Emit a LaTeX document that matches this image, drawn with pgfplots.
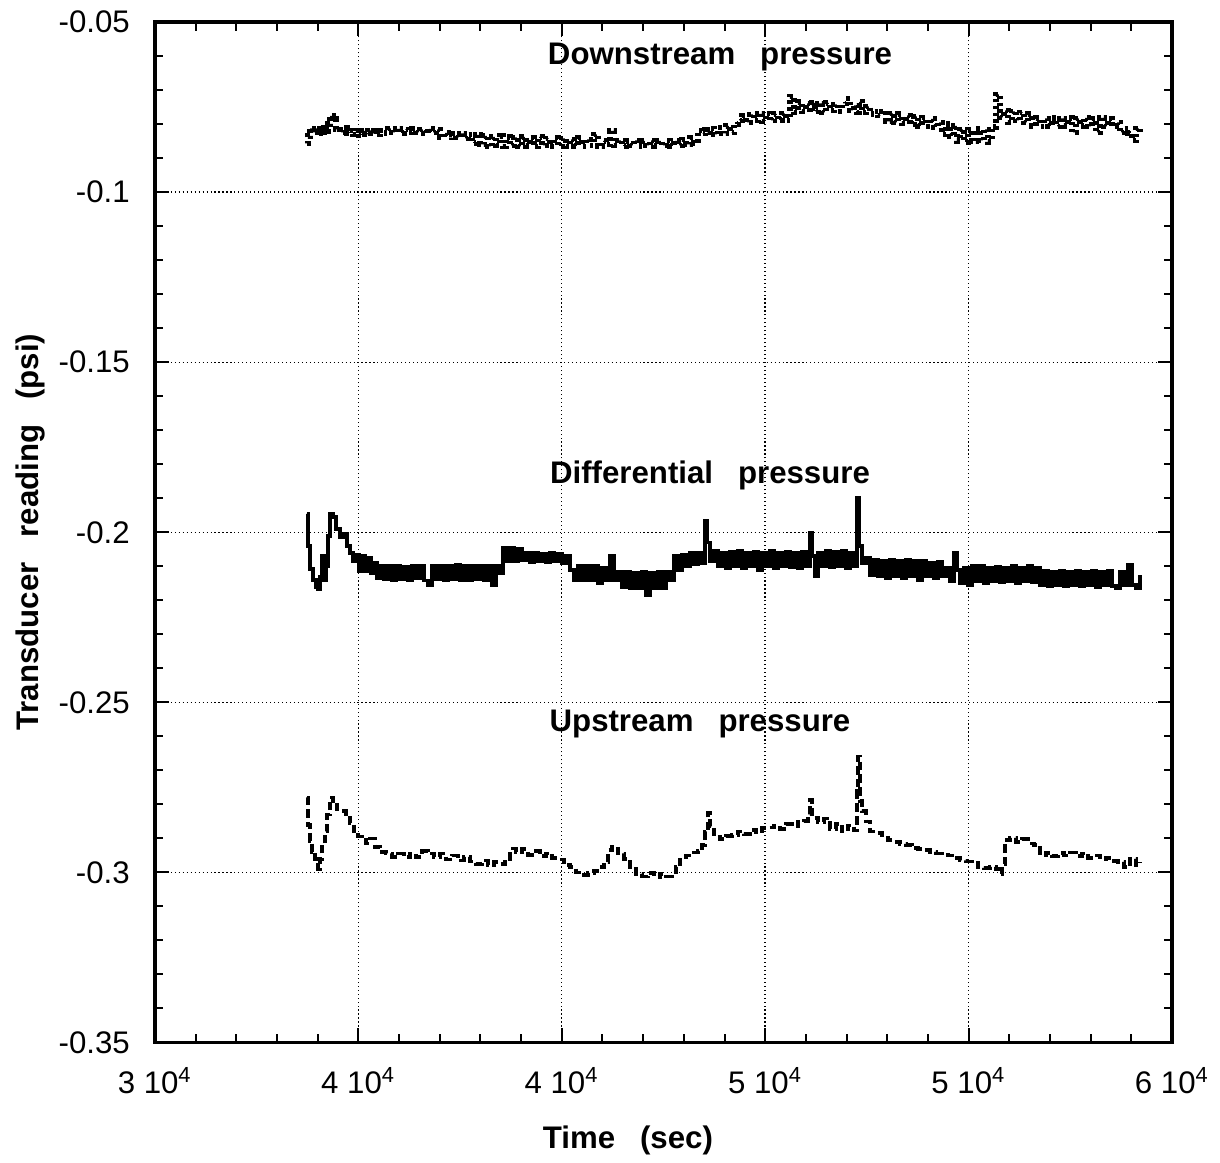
\documentclass[border=0pt]{standalone}
\usepackage{fontspec}
\setmainfont{Liberation Sans}
\usepackage{pgfplots}
\pgfplotsset{compat=1.18}
\newcommand{\gap}{\hspace{0.8em}}
\begin{document}
\fontsize{11}{13}\selectfont
\begin{tikzpicture}
\begin{axis}[
  at={(0,0)}, anchor=south west,
  scale only axis,
  width=358.5pt, height=359.6pt,
  xmin=30000, xmax=60000,
  ymin=-0.35, ymax=-0.05,
  scaled x ticks=false, scaled y ticks=false,
  xtick={30000,36000,42000,48000,54000,60000},
  xticklabels={3 10\textsuperscript{4},4 10\textsuperscript{4},4 10\textsuperscript{4},5 10\textsuperscript{4},5 10\textsuperscript{4},6 10\textsuperscript{4}},
  ytick={-0.35,-0.3,-0.25,-0.2,-0.15,-0.1,-0.05},
  yticklabels={-0.35,-0.3,-0.25,-0.2,-0.15,-0.1,-0.05},
  minor x tick num=4, minor y tick num=4,
  tick align=inside,
  major tick length=5pt, minor tick length=3pt,
  every tick/.style={black, line width=0.7pt},
  axis line style={line width=1.2pt},
  grid=major,
  major grid style={black, densely dotted, line width=0.5pt},
  /pgf/number format/assume math mode=true,
  tick label style={font=\fontsize{11}{13}\selectfont},
  yticklabel style={xshift=-5pt},
  xticklabel style={yshift=-5pt},
  xlabel={\bfseries Time\gap(sec)},
  ylabel={\bfseries Transducer\gap reading\gap(psi)},
  xlabel style={at={(axis description cs:0.465,0)}, anchor=center, yshift=-34.5pt},
  ylabel style={at={(axis description cs:0,0.5)}, anchor=center, yshift=44pt},
  clip=true,
]
% Downstream pressure
\addplot[const plot, black, line width=1.9pt, dash pattern=on 1.2pt off 1.2pt] table {
34484 -0.0856
34514 -0.0835
34573 -0.0812
34661 -0.0825
34750 -0.0812
34809 -0.0826
34868 -0.0810
34927 -0.0824
34986 -0.0810
35045 -0.0822
35104 -0.0800
35163 -0.0776
35251 -0.0785
35340 -0.0815
35458 -0.0825
35576 -0.0810
35664 -0.0826
35753 -0.0818
35841 -0.0830
35930 -0.0818
36018 -0.0832
36107 -0.0820
36195 -0.0830
36284 -0.0818
36372 -0.0828
36461 -0.0820
36549 -0.0830
36638 -0.0818
36756 -0.0826
36874 -0.0813
36992 -0.0824
37110 -0.0814
37228 -0.0826
37346 -0.0815
37464 -0.0825
37582 -0.0813
37700 -0.0824
37818 -0.0815
37936 -0.0826
38054 -0.0814
38172 -0.0825
38290 -0.0816
38408 -0.0838
38526 -0.0826
38644 -0.0840
38762 -0.0828
38880 -0.0840
38998 -0.0828
39116 -0.0842
39234 -0.0830
39352 -0.0855
39470 -0.0832
39588 -0.0860
39706 -0.0835
39824 -0.0865
39942 -0.0838
40060 -0.0862
40178 -0.0835
40266 -0.0866
40355 -0.0838
40473 -0.0862
40591 -0.0840
40709 -0.0866
40827 -0.0838
40945 -0.0864
41063 -0.0840
41181 -0.0866
41299 -0.0838
41417 -0.0862
41535 -0.0842
41653 -0.0866
41771 -0.0840
41889 -0.0864
42007 -0.0842
42125 -0.0866
42243 -0.0845
42361 -0.0864
42479 -0.0840
42597 -0.0866
42715 -0.0845
42833 -0.0862
42951 -0.0830
43069 -0.0864
43187 -0.0850
43305 -0.0860
43423 -0.0820
43541 -0.0862
43659 -0.0848
43777 -0.0864
43895 -0.0850
44013 -0.0862
44131 -0.0848
44249 -0.0864
44367 -0.0850
44485 -0.0862
44603 -0.0848
44721 -0.0864
44839 -0.0850
44957 -0.0862
45075 -0.0848
45193 -0.0864
45311 -0.0850
45429 -0.0862
45547 -0.0845
45665 -0.0860
45783 -0.0840
45901 -0.0855
46019 -0.0818
46137 -0.0828
46226 -0.0815
46285 -0.0825
46373 -0.0812
46491 -0.0830
46609 -0.0810
46727 -0.0828
46845 -0.0805
46963 -0.0825
47081 -0.0800
47199 -0.0790
47317 -0.0775
47435 -0.0795
47553 -0.0772
47671 -0.0790
47789 -0.0770
47907 -0.0792
48025 -0.0768
48143 -0.0790
48261 -0.0770
48379 -0.0788
48497 -0.0768
48615 -0.0790
48733 -0.0718
48851 -0.0765
48969 -0.0735
49087 -0.0762
49205 -0.0740
49323 -0.0765
49382 -0.0738
49470 -0.0762
49559 -0.0740
49677 -0.0765
49795 -0.0738
49913 -0.0760
50031 -0.0742
50149 -0.0762
50267 -0.0740
50385 -0.0725
50503 -0.0760
50621 -0.0745
50710 -0.0765
50769 -0.0735
50857 -0.0765
50975 -0.0748
51093 -0.0770
51211 -0.0762
51329 -0.0775
51447 -0.0762
51565 -0.0792
51683 -0.0768
51801 -0.0795
51919 -0.0770
52037 -0.0798
52155 -0.0775
52273 -0.0800
52391 -0.0778
52509 -0.0805
52627 -0.0780
52745 -0.0806
52863 -0.0785
52981 -0.0808
53099 -0.0795
53217 -0.0830
53335 -0.0800
53453 -0.0835
53571 -0.0805
53660 -0.0850
53748 -0.0815
53866 -0.0852
53984 -0.0815
54102 -0.0850
54220 -0.0812
54338 -0.0848
54456 -0.0815
54574 -0.0852
54692 -0.0808
54810 -0.0712
54928 -0.0780
55046 -0.0760
55164 -0.0795
55282 -0.0762
55400 -0.0790
55518 -0.0765
55636 -0.0795
55754 -0.0770
55872 -0.0805
55990 -0.0782
56108 -0.0806
56226 -0.0784
56344 -0.0805
56462 -0.0782
56580 -0.0806
56698 -0.0784
56816 -0.0805
56934 -0.0782
57052 -0.0825
57170 -0.0784
57288 -0.0805
57406 -0.0782
57524 -0.0806
57642 -0.0784
57760 -0.0825
57878 -0.0782
57996 -0.0806
58114 -0.0784
58232 -0.0805
58350 -0.0795
58468 -0.0825
58586 -0.0812
58704 -0.0826
58822 -0.0848
58940 -0.0812
59058 -0.0826
};
% Differential pressure
\addplot[const plot, black, line width=1.3pt] table {
34484 -0.1946
34514 -0.2040
34573 -0.2108
34661 -0.2140
34750 -0.2160
34809 -0.2167
34868 -0.2130
34927 -0.2069
34986 -0.2140
35045 -0.2100
35104 -0.2010
35163 -0.1946
35251 -0.1955
35340 -0.1990
35458 -0.2015
35576 -0.2005
35664 -0.2040
35753 -0.2060
35841 -0.2085
35930 -0.2065
36018 -0.2115
36107 -0.2070
36195 -0.2115
36284 -0.2075
36372 -0.2120
36461 -0.2090
36549 -0.2135
36638 -0.2100
36756 -0.2138
36874 -0.2098
36992 -0.2140
37110 -0.2100
37228 -0.2138
37346 -0.2102
37464 -0.2140
37582 -0.2098
37700 -0.2135
37818 -0.2100
37936 -0.2142
38054 -0.2155
38172 -0.2100
38290 -0.2138
38408 -0.2098
38526 -0.2140
38644 -0.2100
38762 -0.2138
38880 -0.2095
38998 -0.2140
39116 -0.2100
39234 -0.2142
39352 -0.2098
39470 -0.2138
39588 -0.2100
39706 -0.2140
39824 -0.2098
39942 -0.2155
40060 -0.2100
40178 -0.2120
40266 -0.2045
40355 -0.2085
40473 -0.2045
40591 -0.2085
40709 -0.2050
40827 -0.2082
40945 -0.2060
41063 -0.2088
41181 -0.2060
41299 -0.2085
41417 -0.2062
41535 -0.2088
41653 -0.2060
41771 -0.2085
41889 -0.2062
42007 -0.2090
42125 -0.2070
42243 -0.2110
42361 -0.2140
42479 -0.2100
42597 -0.2142
42715 -0.2100
42833 -0.2140
42951 -0.2098
43069 -0.2150
43187 -0.2105
43305 -0.2140
43423 -0.2070
43541 -0.2140
43659 -0.2115
43777 -0.2160
43895 -0.2115
44013 -0.2165
44131 -0.2118
44249 -0.2165
44367 -0.2115
44485 -0.2185
44603 -0.2120
44721 -0.2165
44839 -0.2115
44957 -0.2165
45075 -0.2115
45193 -0.2140
45311 -0.2070
45429 -0.2110
45547 -0.2065
45665 -0.2100
45783 -0.2060
45901 -0.2095
46019 -0.2060
46137 -0.2090
46226 -0.1966
46285 -0.2030
46373 -0.2085
46491 -0.2055
46609 -0.2100
46727 -0.2060
46845 -0.2105
46963 -0.2058
47081 -0.2100
47199 -0.2055
47317 -0.2105
47435 -0.2060
47553 -0.2100
47671 -0.2058
47789 -0.2110
47907 -0.2060
48025 -0.2100
48143 -0.2055
48261 -0.2105
48379 -0.2060
48497 -0.2100
48615 -0.2058
48733 -0.2102
48851 -0.2060
48969 -0.2105
49087 -0.2058
49205 -0.2100
49323 -0.2002
49382 -0.2070
49470 -0.2130
49559 -0.2060
49677 -0.2100
49795 -0.2055
49913 -0.2102
50031 -0.2058
50149 -0.2100
50267 -0.2055
50385 -0.2105
50503 -0.2060
50621 -0.2100
50710 -0.1900
50769 -0.2040
50857 -0.2090
50975 -0.2075
51093 -0.2125
51211 -0.2080
51329 -0.2130
51447 -0.2085
51565 -0.2135
51683 -0.2082
51801 -0.2130
51919 -0.2085
52037 -0.2135
52155 -0.2082
52273 -0.2130
52391 -0.2085
52509 -0.2140
52627 -0.2085
52745 -0.2130
52863 -0.2090
52981 -0.2135
53099 -0.2088
53217 -0.2130
53335 -0.2105
53453 -0.2145
53571 -0.2060
53660 -0.2110
53748 -0.2150
53866 -0.2105
53984 -0.2155
54102 -0.2100
54220 -0.2145
54338 -0.2100
54456 -0.2150
54574 -0.2105
54692 -0.2145
54810 -0.2102
54928 -0.2148
55046 -0.2105
55164 -0.2145
55282 -0.2100
55400 -0.2150
55518 -0.2105
55636 -0.2145
55754 -0.2100
55872 -0.2148
55990 -0.2105
56108 -0.2155
56226 -0.2112
56344 -0.2158
56462 -0.2115
56580 -0.2156
56698 -0.2112
56816 -0.2158
56934 -0.2115
57052 -0.2156
57170 -0.2112
57288 -0.2158
57406 -0.2115
57524 -0.2156
57642 -0.2112
57760 -0.2160
57878 -0.2115
57996 -0.2156
58114 -0.2112
58232 -0.2158
58350 -0.2165
58468 -0.2115
58586 -0.2156
58704 -0.2095
58822 -0.2156
58940 -0.2165
59058 -0.2125
};
% Upstream pressure
\addplot[const plot, black, line width=1.3pt, dash pattern=on 3pt off 1.5pt] table {
34484 -0.2780
34514 -0.2860
34573 -0.2907
34632 -0.2940
34720 -0.2960
34809 -0.2990
34868 -0.2960
34927 -0.2917
35015 -0.2880
35074 -0.2830
35163 -0.2780
35251 -0.2790
35369 -0.2815
35487 -0.2820
35635 -0.2840
35753 -0.2855
35871 -0.2880
35989 -0.2895
36107 -0.2905
36225 -0.2915
36343 -0.2900
36490 -0.2925
36638 -0.2940
36815 -0.2945
36992 -0.2955
37169 -0.2945
37346 -0.2955
37523 -0.2945
37700 -0.2955
37877 -0.2938
38054 -0.2945
38231 -0.2955
38408 -0.2945
38585 -0.2962
38762 -0.2950
38939 -0.2965
39116 -0.2955
39293 -0.2968
39470 -0.2975
39647 -0.2965
39824 -0.2978
40001 -0.2970
40178 -0.2975
40326 -0.2960
40473 -0.2930
40650 -0.2940
40827 -0.2932
41004 -0.2948
41181 -0.2938
41358 -0.2952
41535 -0.2945
41712 -0.2958
41889 -0.2962
42066 -0.2978
42243 -0.2985
42420 -0.3000
42597 -0.3008
42774 -0.3002
42951 -0.2995
43128 -0.2985
43246 -0.2970
43364 -0.2935
43482 -0.2925
43659 -0.2945
43836 -0.2960
44013 -0.2990
44190 -0.3005
44367 -0.3012
44544 -0.3002
44721 -0.3014
44898 -0.3005
45075 -0.3012
45252 -0.3000
45370 -0.2985
45488 -0.2955
45665 -0.2950
45842 -0.2942
46019 -0.2938
46137 -0.2920
46226 -0.2880
46314 -0.2825
46373 -0.2865
46491 -0.2895
46668 -0.2902
46845 -0.2893
47022 -0.2890
47199 -0.2880
47376 -0.2888
47553 -0.2875
47730 -0.2883
47907 -0.2870
48084 -0.2868
48261 -0.2862
48438 -0.2872
48615 -0.2858
48792 -0.2864
48969 -0.2852
49146 -0.2848
49264 -0.2830
49323 -0.2786
49382 -0.2840
49559 -0.2852
49736 -0.2842
49913 -0.2872
50090 -0.2858
50267 -0.2880
50444 -0.2862
50621 -0.2877
50710 -0.2760
50739 -0.2659
50798 -0.2790
50857 -0.2820
50975 -0.2850
51093 -0.2880
51270 -0.2885
51447 -0.2892
51624 -0.2905
51801 -0.2910
51978 -0.2916
52155 -0.2920
52332 -0.2928
52509 -0.2932
52686 -0.2935
52863 -0.2940
53040 -0.2945
53217 -0.2948
53394 -0.2950
53571 -0.2958
53748 -0.2965
53925 -0.2968
54102 -0.2972
54279 -0.2985
54456 -0.2988
54633 -0.2985
54810 -0.2990
54928 -0.3005
54987 -0.2975
55076 -0.2905
55223 -0.2898
55400 -0.2910
55577 -0.2902
55754 -0.2915
55931 -0.2920
56108 -0.2950
56285 -0.2943
56462 -0.2952
56639 -0.2944
56816 -0.2950
56993 -0.2942
57170 -0.2952
57347 -0.2945
57524 -0.2957
57701 -0.2950
57878 -0.2962
58055 -0.2958
58232 -0.2966
58409 -0.2970
58586 -0.2985
58763 -0.2960
58940 -0.2978
59058 -0.2970
};
\node[font=\bfseries] at (axis cs:46668,-0.0603) {Downstream\gap pressure};
\node[font=\bfseries] at (axis cs:46373,-0.1832) {Differential\gap pressure};
\node[font=\bfseries] at (axis cs:46078,-0.2565) {Upstream\gap pressure};
\end{axis}
\pgfresetboundingbox
\path (-54.6pt,-42.3pt) rectangle (375.4pt,367.4pt);
\end{tikzpicture}
\end{document}
